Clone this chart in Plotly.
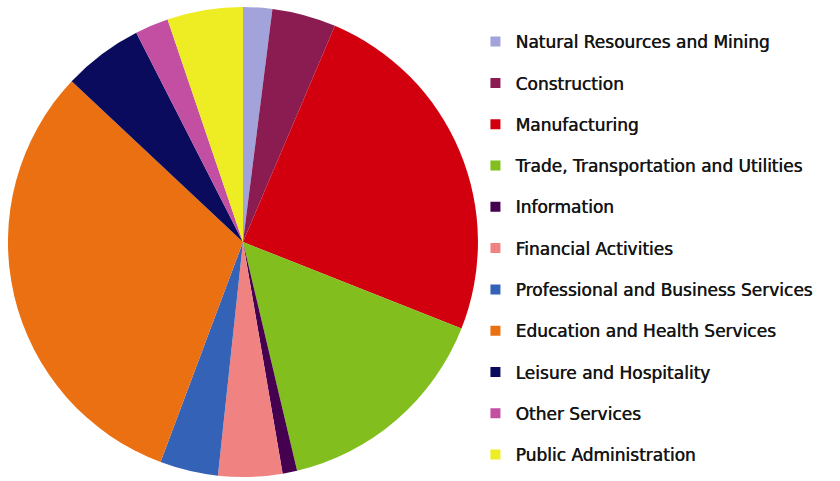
import plotly.graph_objects as go

categories = [
    "Natural Resources and Mining",
    "Construction",
    "Manufacturing",
    "Trade, Transportation and Utilities",
    "Information",
    "Financial Activities",
    "Professional and Business Services",
    "Education and Health Services",
    "Leisure and Hospitality",
    "Other Services",
    "Public Administration",
]
shares = [2.0, 4.4, 24.6, 15.3, 1.0, 4.4, 4.0, 31.3, 5.5, 2.3, 5.2]
colors = [
    "#a3a3dc", "#8a1c52", "#d2000e", "#82be1e", "#45004f", "#f08282",
    "#3462b6", "#ea7012", "#0b0b5e", "#c24fa2", "#eeec22",
]

fig = go.Figure()
fig.add_trace(go.Pie(
    labels=categories,
    values=shares,
    sort=False,
    direction="clockwise",
    rotation=0,
    textinfo="none",
    marker=dict(colors=colors, line=dict(width=0)),
    domain=dict(x=[0.0095, 0.569], y=[0.0083, 0.9854]),
    showlegend=False,
))

for i, (name, c) in enumerate(zip(categories, colors)):
    fig.add_trace(go.Scatter(
        x=[None], y=[None], mode="markers", name=name,
        legendgroup=f"g{i}",
        marker=dict(symbol="square", size=10, color=c),
    ))

fig.update_layout(
    width=840, height=481,
    margin=dict(l=0, r=0, t=0, b=0),
    paper_bgcolor="white", plot_bgcolor="white",
    xaxis=dict(visible=False), yaxis=dict(visible=False),
    font=dict(family="DejaVu Sans", size=17, color="#151515"),
    legend=dict(
        x=0.566, y=0.95, xanchor="left", yanchor="top",
        tracegroupgap=16.2, itemwidth=30,
        bgcolor="rgba(0,0,0,0)",
        font=dict(size=17, family="DejaVu Sans", color="#151515",
                  shadow="0.5px 0px 0px #151515"),
    ),
)
fig.write_html(
    "out.html",
    config={"displayModeBar": False},
    post_script="document.body.style.margin='0';document.body.style.padding='0';",
)
